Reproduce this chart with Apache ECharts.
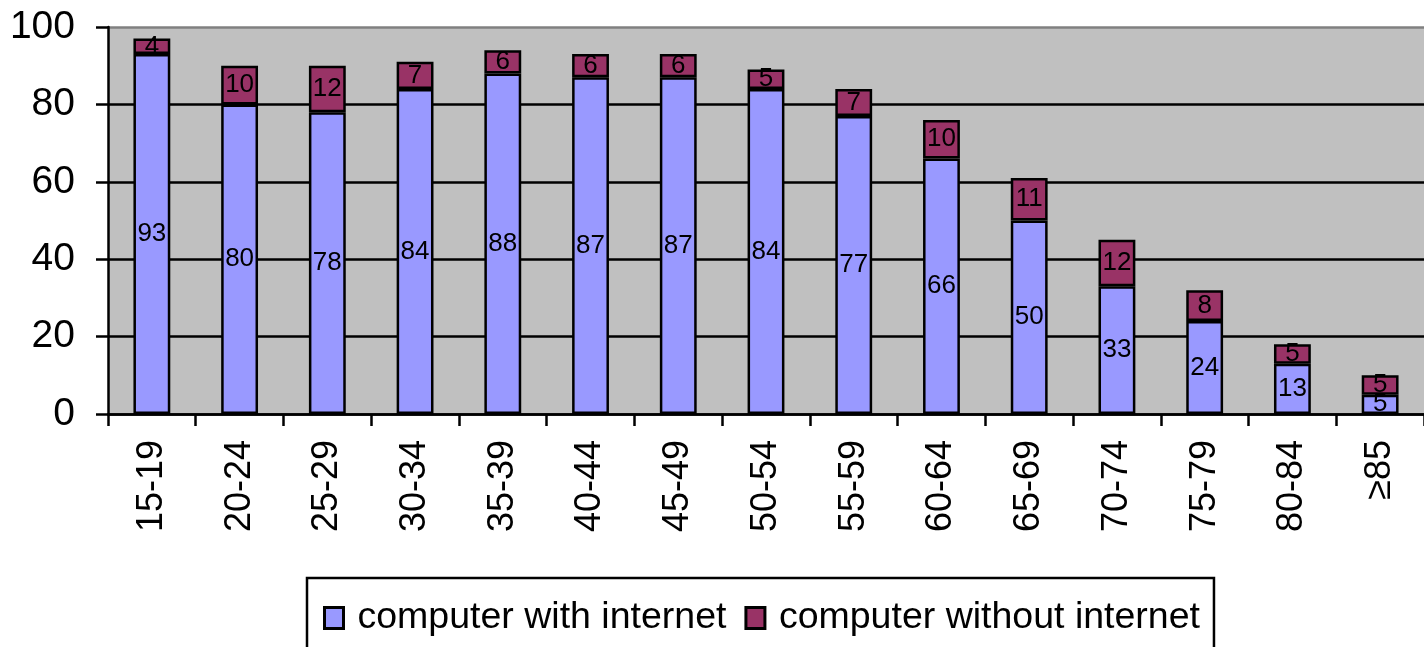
<!DOCTYPE html>
<html><head><meta charset="utf-8">
<script src="https://cdn.jsdelivr.net/npm/echarts@6/dist/echarts.min.js"></script>
<style>html,body{margin:0;padding:0;background:#fff;overflow:hidden}#c{width:1424px;height:647px}</style>
</head><body><div id="c"></div>
<script>
var categories = ['15-19','20-24','25-29','30-34','35-39','40-44','45-49','50-54','55-59','60-64','65-69','70-74','75-79','80-84','≥85'];
var withInternet = [93,80,78,84,88,87,87,84,77,66,50,33,24,13,5];
var withoutInternet = [4,10,12,7,6,6,6,5,7,10,11,12,8,5,5];
var yTicks = [0,20,40,60,80,100];
var seriesNames = ['computer with internet','computer without internet'];

var chart = echarts.init(document.getElementById('c'));
var font = 'Liberation Sans, Arial, sans-serif';
var lbl = {show:true, position:'inside', color:'#000', fontSize:26, fontFamily:font};
chart.setOption({
  animation:false,
  grid:{left:108, top:27, width:1323, bottom:233, show:true, backgroundColor:'#C0C0C0', borderWidth:0},
  legend:{
    data:seriesNames, top:578, left:307, icon:'rect',
    orient:'horizontal', itemWidth:19, itemHeight:21, itemGap:18,
    borderColor:'#000', borderWidth:2.5, padding:[21,14,40,16],
    textStyle:{fontSize:37.5, fontFamily:font, color:'#000', padding:[0,0,0,9]},
    itemStyle:{borderColor:'#000', borderWidth:3}
  },
  xAxis:{
    type:'category', data:categories,
    axisLine:{lineStyle:{color:'#000', width:2.5}},
    axisTick:{show:true, length:12, lineStyle:{color:'#000', width:2.5}},
    axisLabel:{rotate:90, fontSize:36, fontFamily:font, color:'#000', margin:26}
  },
  yAxis:{
    type:'value', min:yTicks[0], max:yTicks[yTicks.length-1], interval:20,
    axisLine:{show:true, lineStyle:{color:'#000', width:2.5}},
    axisTick:{show:true, length:12, lineStyle:{color:'#000', width:2.5}},
    axisLabel:{fontSize:39, fontFamily:font, color:'#000', margin:33},
    splitLine:{show:true, lineStyle:{color:['#000','#000','#000','#000','#000','#808080'], width:2.5}}
  },
  series:[
    {name:seriesNames[0], type:'bar', stack:'a', data:withInternet, barWidth:'42%',
     itemStyle:{color:'#9999FF', borderColor:'#000', borderWidth:2.5}, label:lbl},
    {name:seriesNames[1], type:'bar', stack:'a', data:withoutInternet, barWidth:'42%',
     itemStyle:{color:'#993366', borderColor:'#000', borderWidth:2.5}, label:lbl}
  ]
});
</script></body></html>
